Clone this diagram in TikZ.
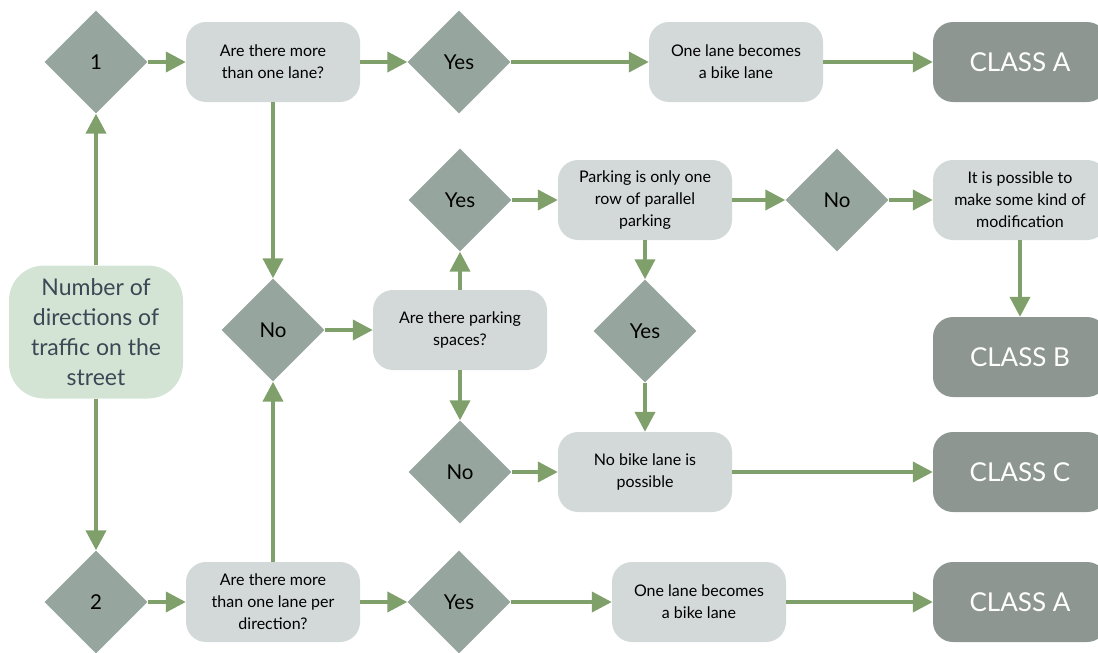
\documentclass[tikz,border=0pt]{standalone}
\usepackage{fontspec}
\setmainfont{Lato}
\usetikzlibrary{shapes.geometric,arrows.meta}
\definecolor{diac}{HTML}{96A69E}
\definecolor{qboxc}{HTML}{D3D8D8}
\definecolor{startc}{HTML}{D3E4D4}
\definecolor{classc}{HTML}{8D9691}
\definecolor{arrowc}{HTML}{80A06B}
\definecolor{starttext}{HTML}{3B4855}
\begin{document}
\begin{tikzpicture}[x=1pt,y=-1pt,
 dec/.style={diamond, fill=diac, minimum width=103pt, minimum height=103pt, inner sep=0pt, font=\fontsize{20.5}{24}\selectfont, text=black},
 qbox/.style={rectangle, rounded corners=20pt, fill=qboxc, minimum width=174pt, minimum height=80pt, inner sep=0pt, align=center, font=\fontsize{16}{22}\selectfont, text=black},
 startbox/.style={rectangle, rounded corners=35pt, fill=startc, minimum width=174pt, minimum height=133pt, inner sep=0pt, align=center, font=\fontsize{23}{30}\selectfont, text=starttext},
 classbox/.style={rectangle, rounded corners=20pt, fill=classc, minimum width=174pt, minimum height=80pt, inner sep=0pt, align=center, font=\fontsize{26}{30}\selectfont, text=white},
 arr/.style={draw=arrowc, line width=4pt, -{Triangle[length=20pt,width=20pt]}}
]
\useasboundingbox (0,0) rectangle (1098,653);
\node[startbox] (start) at (96,332) {Number of\\directions of\\traffic on the\\street};
\node[dec] (d1) at (96,62) {1};
\node[dec] (d2) at (96,602) {2};
\node[qbox] (q1) at (273,62) {Are there more\\than one lane?};
\node[qbox] (q2) at (273,602) {Are there more\\than one lane per\\direction?};
\node[dec] (yes1) at (459,62) {Yes};
\node[dec] (yes4) at (459,602) {Yes};
\node[qbox] (bike1) at (736,62) {One lane becomes\\a bike lane};
\node[qbox] (bike2) at (699,602) {One lane becomes\\a bike lane};
\node[classbox] (ca1) at (1020,62) {CLASS A};
\node[classbox] (cb) at (1020,357) {CLASS B};
\node[classbox] (cc) at (1020,472) {CLASS C};
\node[classbox] (ca2) at (1020,602) {CLASS A};
\node[dec] (no1) at (273,330) {No};
\node[qbox] (park) at (460,330) {Are there parking\\spaces?};
\node[dec] (yes2) at (460,200) {Yes};
\node[dec] (no2) at (460,472) {No};
\node[qbox] (par) at (645,200) {Parking is only one\\row of parallel\\parking};
\node[dec] (no3) at (837,200) {No};
\node[qbox] (mod) at (1020,200) {It is possible to\\make some kind of\\modification};
\node[dec] (yes3) at (645,331) {Yes};
\node[qbox] (nob) at (645,472) {No bike lane is\\possible};

\draw[arr] (start) -- (d1);
\draw[arr] (start) -- (d2);
\draw[arr] (d1) -- (q1);
\draw[arr] (q1) -- (yes1);
\draw[arr] (yes1) -- (bike1);
\draw[arr] (bike1) -- (ca1);
\draw[arr] (q1) -- (no1);
\draw[arr] (q2) -- (no1);
\draw[arr] (d2) -- (q2);
\draw[arr] (q2) -- (yes4);
\draw[arr] (yes4) -- (bike2);
\draw[arr] (bike2) -- (ca2);
\draw[arr] (no1) -- (park);
\draw[arr] (park) -- (yes2);
\draw[arr] (park) -- (no2);
\draw[arr] (yes2) -- (par);
\draw[arr] (par) -- (no3);
\draw[arr] (no3) -- (mod);
\draw[arr] (mod) -- (cb);
\draw[arr] (par) -- (yes3);
\draw[arr] (yes3) -- (nob);
\draw[arr] (no2) -- (nob);
\draw[arr] (nob) -- (cc);
\end{tikzpicture}
\end{document}
